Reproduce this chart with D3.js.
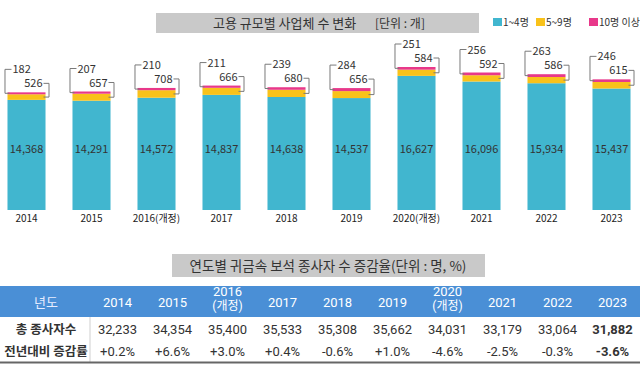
<!DOCTYPE html>
<html>
<head>
<meta charset="utf-8">
<script src="https://cdn.jsdelivr.net/npm/d3@7"></script>
<style>
  html, body { margin: 0; padding: 0; background: #fff; }
  svg { display: block; font-family: "Noto Sans CJK KR", "Noto Sans", sans-serif; }
</style>
</head>
<body>
<div id="chart"></div>
<script>
// Bar chart: businesses by employment size
const years = ['2014', '2015', '2016(개정)', '2017', '2018', '2019', '2020(개정)', '2021', '2022', '2023'];
const small = [14368, 14291, 14572, 14837, 14638, 14537, 16627, 16096, 15934, 15437]; // 1~4명
const mid = [526, 657, 708, 666, 680, 656, 584, 592, 586, 615];                          // 5~9명
const large = [182, 207, 210, 211, 239, 284, 251, 256, 263, 246];                        // 10명 이상
const seriesNames = ['1~4명', '5~9명', '10명 이상'];

// Table: workers per year
const tableYears = [['2014'], ['2015'], ['2016', '(개정)'], ['2017'], ['2018'], ['2019'], ['2020', '(개정)'], ['2021'], ['2022'], ['2023']];
const workers = [32233, 34354, 35400, 35533, 35308, 35662, 34031, 33179, 33064, 31882];
const rates = [0.2, 6.6, 3.0, 0.4, -0.6, 1.0, -4.6, -2.5, -0.3, -3.6];

const width = 640, height = 371;
const colors = ['#41b6cf', '#f9c21a', '#e8388a'];
const bracketColor = '#7a7a7a';

const svg = d3.select('#chart').append('svg')
  .attr('width', width).attr('height', height);

// ---- Title box
svg.append('rect').attr('x', 156).attr('y', 13).attr('width', 323).attr('height', 20).attr('fill', '#c9c9c9');
svg.append('text').attr('x', 213).attr('y', 27.5).attr('font-size', 13).attr('fill', '#333')
  .text('고용 규모별 사업체 수 변화');
svg.append('text').attr('x', 375).attr('y', 27.5).attr('font-size', 12).attr('fill', '#333')
  .text('[단위 : 개]');

// ---- Legend
const legendX = [493, 536, 589];
const legend = svg.append('g').selectAll('g').data(seriesNames).join('g')
  .attr('transform', (d, i) => `translate(${legendX[i]},18)`);
legend.append('rect').attr('width', 9).attr('height', 8).attr('fill', (d, i) => colors[i]);
legend.append('text').attr('x', 10).attr('y', 8).attr('font-size', 10).attr('fill', '#333').text(d => d);

// ---- Stacked bars (value axis does not start at zero, so clamp)
const rows = years.map((y, i) => ({ year: y, small: small[i], mid: mid[i], large: large[i] }));
const stacked = d3.stack().keys(['small', 'mid', 'large'])(rows);

const x = d3.scaleBand().domain(years).range([-6, 644]).paddingInner(0.415).paddingOuter(0.2075);
const y = d3.scaleLinear().domain([4000, 17462]).range([210, 67]).clamp(true);
const bw = x.bandwidth();

svg.append('g').selectAll('g').data(stacked).join('g')
  .attr('fill', (d, i) => colors[i])
  .selectAll('rect').data(d => d).join('rect')
  .attr('x', d => x(d.data.year))
  .attr('y', d => y(d[1]))
  .attr('width', bw)
  .attr('height', d => y(d[0]) - y(d[1]));

// values inside cyan segment
svg.append('g').selectAll('text').data(rows).join('text')
  .attr('x', d => x(d.year) + bw / 2)
  .attr('y', 153)
  .attr('text-anchor', 'middle')
  .attr('font-size', 11)
  .attr('fill', '#333')
  .text(d => d3.format(',')(d.small));

// x labels
svg.append('g').selectAll('text').data(years).join('text')
  .attr('x', d => x(d) + bw / 2)
  .attr('y', 222)
  .attr('text-anchor', 'middle')
  .attr('font-size', 10)
  .attr('fill', '#222')
  .text(d => d);

// bracket callouts for 10명 이상 (left) and 5~9명 (right)
const brk = svg.append('g').attr('fill', 'none').attr('stroke', bracketColor).attr('stroke-width', 1);
const brkText = svg.append('g').attr('font-size', 11).attr('fill', '#333');
rows.forEach((d, i) => {
  const x0 = x(d.year), x1 = x0 + bw;
  const top = y(d.small + d.mid + d.large);
  const pinkY = y(d.small + d.mid + d.large / 2);
  const yelY = y(d.small + d.mid / 2);
  const lY = top - 23, rY = top - 9;
  brk.append('path').attr('d', `M${x0 + 2},${pinkY} H${x0 - 2.5} V${lY} H${x0 + 4}`);
  brkText.append('text').attr('x', x0 + 5).attr('y', lY + 4).text(d.large);
  brk.append('path').attr('d', `M${x1 - 2},${yelY} H${x1 + 3.5} V${rY} H${x1 - 2}`);
  brkText.append('text').attr('x', x1 - 3).attr('y', rY + 4).attr('text-anchor', 'end').text(d.mid);
});

// ---- Table title
svg.append('rect').attr('x', 172).attr('y', 254).attr('width', 313).attr('height', 23).attr('fill', '#c9c9c9');
svg.append('text').attr('x', 328).attr('y', 270.5).attr('text-anchor', 'middle')
  .attr('font-size', 13.5).attr('fill', '#333')
  .text('연도별 귀금속 보석 종사자 수 증감율(단위 : 명, %)');

// ---- Table
const cx = d3.scaleBand().domain(d3.range(years.length)).range([90, 640]);
const headTop = 286, headH = 31;
svg.append('rect').attr('x', 0).attr('y', headTop).attr('width', width).attr('height', headH).attr('fill', '#4a8fd6');
svg.append('text').attr('x', 46).attr('y', headTop + headH / 2 + 5).attr('text-anchor', 'middle')
  .attr('font-size', 13).attr('fill', '#e6ecff').text('년도');

const head = svg.append('g').selectAll('text').data(tableYears).join('text')
  .attr('text-anchor', 'middle').attr('fill', '#fff').attr('font-size', 13)
  .attr('font-family', 'Roboto, "Noto Sans CJK KR", sans-serif');
head.selectAll('tspan').data((d, i) => d.map(t => ({ t, i, n: d.length }))).join('tspan')
  .attr('x', d => cx(d.i) + cx.bandwidth() / 2)
  .attr('y', (d, j) => d.n === 1 ? headTop + headH / 2 + 5 : headTop + 10 + j * 14)
  .attr('font-size', d => d.t.startsWith('(') ? 12 : 13)
  .text(d => d.t);

const row1Y = 334, row2Y = 356;
svg.append('line').attr('x1', 90).attr('x2', 90).attr('y1', headTop + headH).attr('y2', 362)
  .attr('stroke', '#cfcfcf');
svg.append('text').attr('x', 46).attr('y', row1Y).attr('text-anchor', 'middle')
  .attr('font-size', 12.5).attr('font-weight', 'bold').attr('fill', '#333').text('총 종사자수');
svg.append('text').attr('x', 46).attr('y', row2Y).attr('text-anchor', 'middle')
  .attr('font-size', 12.5).attr('font-weight', 'bold').attr('fill', '#333').text('전년대비 증감률');

const fmtRate = v => (v > 0 ? '+' : '') + v.toFixed(1) + '%';
const last = years.length - 1;
svg.append('g').selectAll('text').data(workers).join('text')
  .attr('x', (d, i) => cx(i) + cx.bandwidth() / 2).attr('y', row1Y)
  .attr('text-anchor', 'middle').attr('font-size', 13).attr('fill', '#333')
  .attr('font-family', 'Roboto, sans-serif')
  .attr('font-weight', (d, i) => i === last ? 'bold' : 'normal')
  .text(d => d3.format(',')(d));
svg.append('g').selectAll('text').data(rates).join('text')
  .attr('x', (d, i) => cx(i) + cx.bandwidth() / 2).attr('y', row2Y)
  .attr('text-anchor', 'middle').attr('font-size', 13).attr('fill', '#333')
  .attr('font-family', 'Roboto, sans-serif')
  .attr('font-weight', (d, i) => i === last ? 'bold' : 'normal')
  .text(d => fmtRate(d));

// bottom rule
svg.append('line').attr('x1', 0).attr('x2', width).attr('y1', 362.5).attr('y2', 362.5)
  .attr('stroke', '#666').attr('stroke-width', 2);
</script>
</body>
</html>
